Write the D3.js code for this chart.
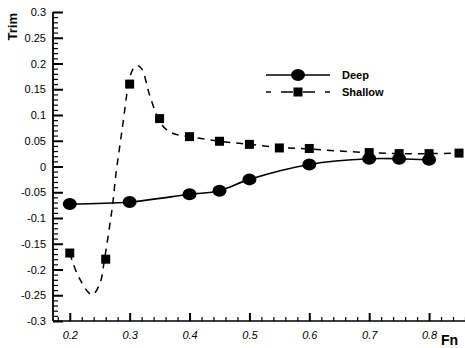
<!DOCTYPE html>
<html>
<head>
<meta charset="utf-8">
<script src="https://cdn.jsdelivr.net/npm/d3@7"></script>
<style>
  body { margin: 0; background: #fff; }
  svg text { font-family: "Liberation Sans", Arial, sans-serif; fill: #000; }
</style>
</head>
<body>
<script>
// Trim vs Fn, deep and shallow water
const deepFn = [0.2, 0.3, 0.4, 0.45, 0.5, 0.6, 0.7, 0.75, 0.8];
const deepTrim = [-0.073, -0.069, -0.054, -0.047, -0.025, 0.004, 0.015, 0.015, 0.013];

const shallowFn = [0.2, 0.26, 0.3, 0.35, 0.4, 0.45, 0.5, 0.55, 0.6, 0.7, 0.75, 0.8, 0.85];
const shallowTrim = [-0.168, -0.18, 0.16, 0.093, 0.058, 0.049, 0.043, 0.036, 0.035, 0.027, 0.025, 0.025, 0.026];

// dashed curve (it overshoots between the markers)
const curveFn = [0.2, 0.215, 0.237, 0.25, 0.258, 0.266, 0.272, 0.277, 0.283, 0.289, 0.298, 0.305, 0.312, 0.32, 0.333, 0.348, 0.36, 0.375, 0.4, 0.45, 0.5, 0.55, 0.6, 0.65, 0.7, 0.75, 0.8, 0.85];
const curveTrim = [-0.168, -0.215, -0.249, -0.228, -0.18, -0.12, -0.07, -0.015, 0.035, 0.085, 0.159, 0.188, 0.196, 0.19, 0.14, 0.093, 0.073, 0.063, 0.058, 0.049, 0.043, 0.037, 0.034, 0.03, 0.027, 0.025, 0.025, 0.026];

const xTicks = [0.2, 0.3, 0.4, 0.5, 0.6, 0.7, 0.8];
const yTicks = [-0.3, -0.25, -0.2, -0.15, -0.1, -0.05, 0, 0.05, 0.1, 0.15, 0.2, 0.25, 0.3];

const W = 465, H = 348;
const svg = d3.select("body").append("svg").attr("width", W).attr("height", H);

const x = d3.scaleLinear().domain([0.172, 0.86]).range([53, 465]);
const y = d3.scaleLinear().domain([-0.3, 0.3]).range([321, 12]);

/*-------- axes (ticks point inward) --------*/
const xMinor = d3.range(0, 35).map(i => +(0.18 + i * 0.02).toFixed(2)).filter(v => !xTicks.some(t => Math.abs(t - v) < 1e-6));
const yMinor = d3.range(0, 61).map(i => +(-0.3 + i * 0.01).toFixed(2)).filter(v => !yTicks.some(t => Math.abs(t - v) < 1e-6));

const xa = svg.append("g")
  .attr("transform", `translate(0,${y(-0.3)})`)
  .call(d3.axisBottom(x).tickValues(xTicks).tickSize(-8).tickPadding(12).tickFormat(d3.format(".1f")).tickSizeOuter(0));
xa.select(".domain").attr("stroke", "#000").attr("stroke-width", 1.6).attr("d", `M53,0H465`);
xa.selectAll(".tick line").attr("stroke", "#000").attr("stroke-width", 2);
xa.selectAll("text").attr("font-size", 11).attr("font-style", "italic").attr("dy", "0.5em");

const ya = svg.append("g")
  .attr("transform", `translate(${x.range()[0]},0)`)
  .call(d3.axisLeft(y).tickValues(yTicks).tickSize(-10).tickPadding(7).tickFormat(d => d === 0 ? "0" : String(+d.toFixed(2))).tickSizeOuter(0));
ya.select(".domain").attr("stroke", "#000").attr("stroke-width", 1.8).attr("d", `M0,${y(0.3)}V${y(-0.3)}`);
ya.selectAll(".tick line").attr("stroke", "#000").attr("stroke-width", 2);
ya.selectAll("text").attr("font-size", 11);

// minor ticks, built from the same scales
const xm = svg.append("g")
  .attr("transform", `translate(0,${y(-0.3)})`)
  .call(d3.axisBottom(x).tickValues(xMinor).tickSize(-4).tickFormat(""));
xm.select(".domain").remove();
xm.selectAll(".tick line").attr("stroke", "#000").attr("stroke-width", 1.2);

const ym = svg.append("g")
  .attr("transform", `translate(${x.range()[0]},0)`)
  .call(d3.axisLeft(y).tickValues(yMinor).tickSize(-5).tickFormat(""));
ym.select(".domain").remove();
ym.selectAll(".tick line").attr("stroke", "#000").attr("stroke-width", 1.2);

svg.append("text")
  .attr("transform", `translate(17,13) rotate(-90)`)
  .attr("text-anchor", "end")
  .attr("font-size", 13).attr("font-weight", "bold")
  .text("Trim");

svg.append("text")
  .attr("x", 441).attr("y", 345)
  .attr("font-size", 14).attr("font-weight", "bold")
  .text("Fn");

/*-------- series --------*/
const curveGen = d3.line().x(d => x(d[0])).y(d => y(d[1])).curve(d3.curveCatmullRom.alpha(0.5));

svg.append("path")
  .datum(d3.zip(curveFn, curveTrim))
  .attr("d", curveGen)
  .attr("fill", "none").attr("stroke", "#000").attr("stroke-width", 1.5)
  .attr("stroke-dasharray", "7,6");

svg.append("path")
  .datum(d3.zip(deepFn, deepTrim))
  .attr("d", curveGen)
  .attr("fill", "none").attr("stroke", "#000").attr("stroke-width", 1.6);

svg.selectAll("rect.sh")
  .data(d3.zip(shallowFn, shallowTrim))
  .enter().append("rect")
  .attr("class", "sh")
  .attr("x", d => x(d[0]) - 4.5).attr("y", d => y(d[1]) - 4.5)
  .attr("width", 9).attr("height", 9).attr("fill", "#000");

svg.selectAll("ellipse.dp")
  .data(d3.zip(deepFn, deepTrim))
  .enter().append("ellipse")
  .attr("class", "dp")
  .attr("cx", d => x(d[0])).attr("cy", d => y(d[1]))
  .attr("rx", 7).attr("ry", 6).attr("fill", "#000");

/*-------- legend --------*/
const lg = svg.append("g").attr("transform", "translate(266,75)");
lg.append("path").attr("d", "M0,0H64").attr("stroke", "#000").attr("stroke-width", 1.5);
lg.append("ellipse").attr("cx", 32).attr("cy", 0).attr("rx", 7).attr("ry", 6).attr("fill", "#000");
lg.append("path").attr("d", "M0,17H64")
  .attr("stroke", "#000").attr("stroke-width", 1.5).attr("stroke-dasharray", "5,10,12,10,12,10,5");
lg.append("rect").attr("x", 27.5).attr("y", 12.5).attr("width", 9).attr("height", 9).attr("fill", "#000");
lg.append("text").attr("x", 76).attr("y", 4).attr("font-size", 11).attr("font-weight", "bold").text("Deep");
lg.append("text").attr("x", 76).attr("y", 21).attr("font-size", 11).attr("font-weight", "bold").text("Shallow");
</script>
</body>
</html>
